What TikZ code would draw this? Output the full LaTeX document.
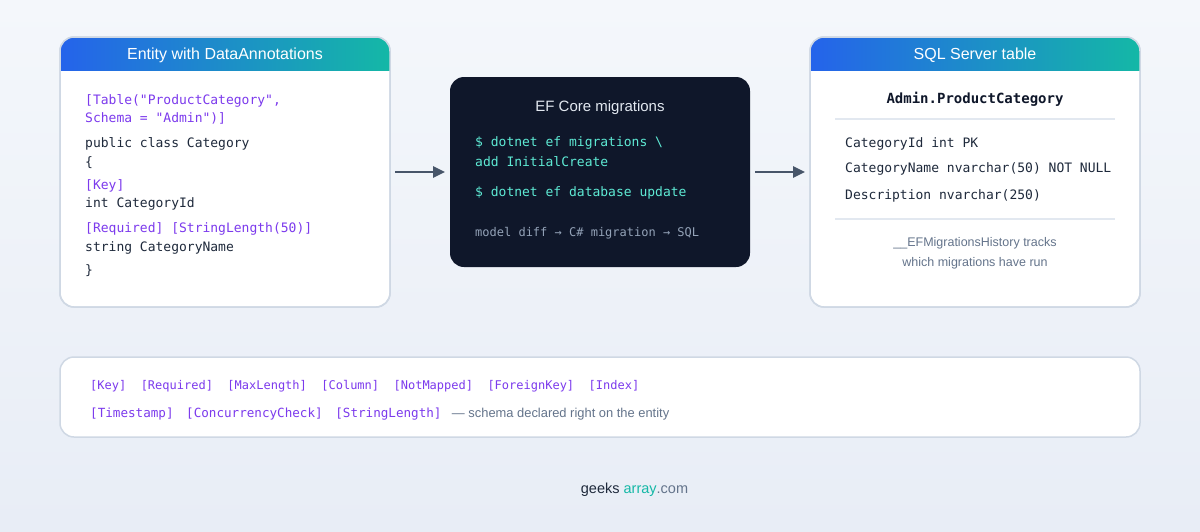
\documentclass[tikz,border=0pt]{standalone}
\usepackage{fontspec}
\setmainfont{Liberation Sans}
\setsansfont{Liberation Sans}
\setmonofont{DejaVu Sans Mono}
\usepackage{tikz}
\usetikzlibrary{positioning, arrows.meta, shadings}
\definecolor{bgtop}{HTML}{F4F7FB}
\definecolor{bgbot}{HTML}{E8EDF6}
\definecolor{cardline}{HTML}{CFD8E4}
\definecolor{hdrleft}{HTML}{2563EB}
\definecolor{hdrright}{HTML}{14B8A6}
\definecolor{codeink}{HTML}{1E293B}
\definecolor{attrink}{HTML}{7C3AED}
\definecolor{darkbg}{HTML}{0F172A}
\definecolor{cmdink}{HTML}{5EEAD4}
\definecolor{dimink}{HTML}{94A3B8}
\definecolor{noteink}{HTML}{64748B}
\definecolor{rule}{HTML}{E2E8F0}
\definecolor{flowink}{HTML}{475569}
\newcommand\codesize{\ttfamily\fontsize{13}{16}\selectfont}
\newcommand\smallcode{\ttfamily\fontsize{12}{15}\selectfont}
\tikzset{card/.style={draw=cardline, line width=1.5pt, fill=white, rounded corners=14pt, outer sep=0pt, minimum width=330pt, minimum height=270pt},
    darkcard/.style={fill=darkbg, rounded corners=14pt, outer sep=0pt, minimum width=300pt, minimum height=190pt},
    hdrtext/.style={anchor=base, inner sep=0pt, text=white, font=\sffamily\fontsize{16}{19}\selectfont},
    codeline/.style={anchor=base west, inner sep=0pt, text=codeink, font=\codesize},
    attrline/.style={codeline, text=attrink},
    cmdline/.style={codeline, text=cmdink},
    noteline/.style={anchor=base, inner sep=0pt, text=noteink, font=\sffamily\fontsize{12.5}{15}\selectfont},
    flow/.style={draw=flowink, line width=2.5pt, -{Triangle[length=12pt,width=11pt]}, shorten <=5pt, shorten >=5pt}}
\begin{document}
\begin{tikzpicture}[x=1pt,y=-1pt]
                 \shade[top color=bgtop, bottom color=bgbot] (0,0) rectangle (1200,531);

                 \node[card] (entity) at (225,172) {};
                 \node[darkcard] (migr) at (600,172) {};
                 \node[card] (sqltab) at (975,172) {};
                 \node[card, minimum width=1080pt, minimum height=80pt] (notes) at (600,397) {};

                 \begin{scope}
                 \clip[rounded corners=14pt] (entity.north west) rectangle (entity.south east);
                 \shade[left color=hdrleft, right color=hdrright] (entity.north west) rectangle ([yshift=-33pt]entity.north east);
                 \end{scope}
                 \begin{scope}
                 \clip[rounded corners=14pt] (sqltab.north west) rectangle (sqltab.south east);
                 \shade[left color=hdrleft, right color=hdrright] (sqltab.north west) rectangle ([yshift=-33pt]sqltab.north east);
                 \end{scope}
                 \draw[draw=cardline, line width=1.5pt, rounded corners=14pt] (entity.north west) rectangle (entity.south east);
                 \draw[draw=cardline, line width=1.5pt, rounded corners=14pt] (sqltab.north west) rectangle (sqltab.south east);

                 \node[hdrtext] (entitytitle) at (225,59.5) {Entity with DataAnnotations};
                 \node[attrline] (e1) at (85,104) {[Table("ProductCategory",};
                 \node[attrline] (e2) at (85,122.3) {Schema = "Admin")]};
                 \node[codeline] (e3) at (85,147.3) {public class Category};
                 \node[codeline] (e4) at (85,166.5) {\{};
                 \node[attrline] (e5) at (85,189.3) {[Key]};
                 \node[codeline] (e6) at (85,207.7) {int CategoryId};
                 \node[attrline] (e7) at (85,232.7) {[Required] [StringLength(50)]};
                 \node[codeline] (e8) at (85,251.7) {string CategoryName};
                 \node[codeline] (e9) at (85,274) {\}};

                 \node[hdrtext, text=rule, font=\sffamily\fontsize{15}{18}\selectfont] (migrtitle) at (600,111.7) {EF Core migrations};
                 \node[cmdline] (m1) at (475,146.7) {\$ dotnet ef migrations \textbackslash};
                 \node[cmdline] (m2) at (475,166.7) {add InitialCreate};
                 \node[cmdline] (m3) at (475,196.7) {\$ dotnet ef database update};
                 \node[codeline, text=dimink, font=\ttfamily\fontsize{12}{14}\selectfont] (m4) at (475,236.7) {model diff → C\# migration → SQL};

                 \node[hdrtext] (sqltitle) at (975,59.5) {SQL Server table};
                 \node[codeline, anchor=base, text=darkbg, font=\ttfamily\bfseries\fontsize{14}{17}\selectfont] (tblname) at (975,103.3) {Admin.ProductCategory};
                 \draw[rule, line width=2pt] (835,119) -- (1115,119);
                 \node[codeline] (c1) at (845,147.3) {CategoryId int PK};
                 \node[codeline] (c2) at (845,172.7) {CategoryName nvarchar(50) NOT NULL};
                 \node[codeline] (c3) at (845,199) {Description nvarchar(250)};
                 \draw[rule, line width=2pt] (835,219) -- (1115,219);
                 \node[noteline] (h1) at (975,246.7) {\_\_EFMigrationsHistory tracks};
                 \node[noteline] (h2) at (975,266) {which migrations have run};

                 \draw[flow] (entity) -- (migr);
                 \draw[flow] (migr) -- (sqltab);

                 \node[attrline, font=\smallcode] (n1) at (90,389.5) {[Key]\ \ [Required]\ \ [MaxLength]\ \ [Column]\ \ [NotMapped]\ \ [ForeignKey]\ \ [Index]};
                 \node[attrline, font=\ttfamily\fontsize{12.6}{15}\selectfont] (n2) at (90,417.5) {[Timestamp]\ \hspace{5pt}[ConcurrencyCheck]\ \hspace{5pt}[StringLength]};
                 \node[noteline, anchor=base west, font=\sffamily\fontsize{12.9}{15}\selectfont] (n3) at ([xshift=10pt]n2.base east) {— schema declared right on the entity};

                 \node[anchor=base, inner sep=0pt, font=\sffamily\fontsize{14.5}{17}\selectfont] (brand) at (634.5,493) {\textcolor{codeink}{geeks} \textcolor{hdrright}{array}\textcolor{noteink}{.com}};
\end{tikzpicture}
\end{document}
